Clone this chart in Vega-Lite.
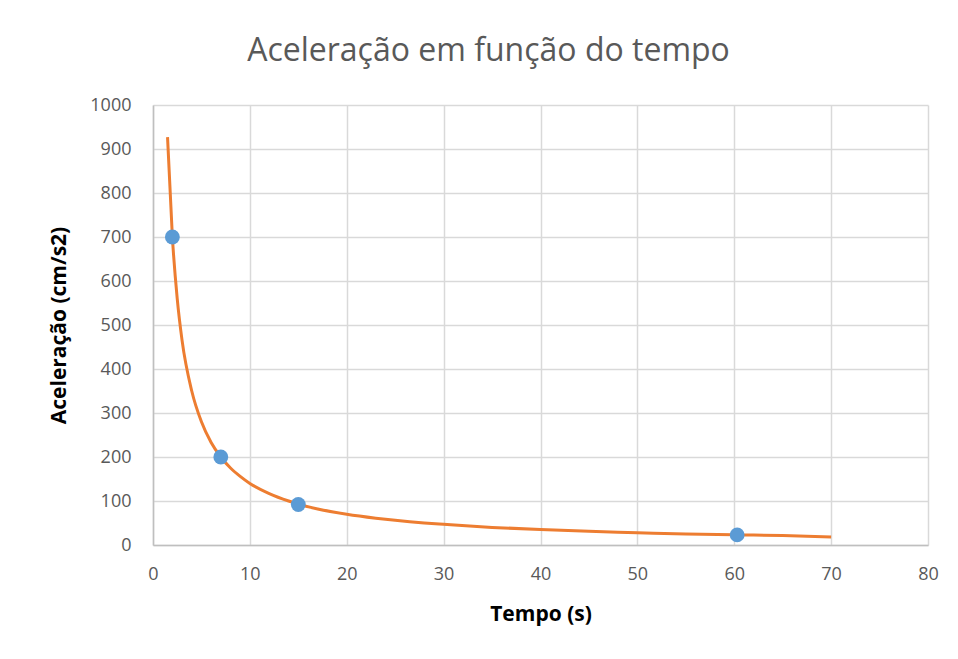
{
  "$schema": "https://vega.github.io/schema/vega-lite/v6.json",
  "autosize": "none",
  "width": 775,
  "height": 440,
  "padding": {"left": 153, "top": 105, "right": 30, "bottom": 114},
  "background": "white",
  "config": {
    "view": {"stroke": null},
    "font": "Open Sans"
  },
  "title": {
    "text": "Aceleração em função do tempo",
    "font": "Open Sans",
    "fontSize": 32,
    "fontWeight": "normal",
    "color": "#595959",
    "anchor": "middle",
    "dx": -52,
    "offset": 28
  },
  "datasets": {
    "curve": [
      {"t": 1.5, "a": 927},
      {"t": 2, "a": 700},
      {"t": 2.5, "a": 560},
      {"t": 3, "a": 465},
      {"t": 4, "a": 350},
      {"t": 5, "a": 280},
      {"t": 6, "a": 233},
      {"t": 7, "a": 200},
      {"t": 8, "a": 175},
      {"t": 9, "a": 156},
      {"t": 10, "a": 140},
      {"t": 12, "a": 117},
      {"t": 14, "a": 100},
      {"t": 15, "a": 93},
      {"t": 17, "a": 82},
      {"t": 20, "a": 70},
      {"t": 23, "a": 61},
      {"t": 25, "a": 56},
      {"t": 28, "a": 50},
      {"t": 30, "a": 47},
      {"t": 35, "a": 40},
      {"t": 40, "a": 35},
      {"t": 45, "a": 31},
      {"t": 50, "a": 28},
      {"t": 55, "a": 25},
      {"t": 60, "a": 23},
      {"t": 65, "a": 21.5},
      {"t": 70, "a": 18}
    ],
    "pts": [
      {"t": 2, "a": 700},
      {"t": 7, "a": 200},
      {"t": 15, "a": 92},
      {"t": 60.3, "a": 23}
    ]
  },
  "encoding": {
    "x": {
      "field": "t",
      "type": "quantitative",
      "scale": {"domain": [0, 80], "nice": false, "zero": true},
      "axis": {
        "title": "Tempo (s)",
        "values": [0, 10, 20, 30, 40, 50, 60, 70, 80],
        "format": "d",
        "labelFlush": false,
        "grid": true,
        "gridColor": "#d9d9d9",
        "gridWidth": 1.5,
        "domainColor": "#bfbfbf",
        "domainWidth": 1.5,
        "ticks": false,
        "labelPadding": 20,
        "labelFont": "Open Sans",
        "labelFontSize": 18,
        "labelColor": "#595959",
        "titleFont": "Open Sans",
        "titleFontSize": 21,
        "titleFontWeight": "bold",
        "titleColor": "#000000",
        "titlePadding": 20
      }
    },
    "y": {
      "field": "a",
      "type": "quantitative",
      "scale": {"domain": [0, 1000], "nice": false},
      "axis": {
        "title": "Aceleração (cm/s2)",
        "values": [0, 100, 200, 300, 400, 500, 600, 700, 800, 900, 1000],
        "format": "d",
        "labelFlush": false,
        "grid": true,
        "gridColor": "#d9d9d9",
        "gridWidth": 1.5,
        "domainColor": "#bfbfbf",
        "domainWidth": 1.5,
        "ticks": false,
        "labelPadding": 22,
        "labelFont": "Open Sans",
        "labelFontSize": 18,
        "labelColor": "#595959",
        "titleFont": "Open Sans",
        "titleFontSize": 21,
        "titleFontWeight": "bold",
        "titleColor": "#000000",
        "titlePadding": 20
      }
    }
  },
  "layer": [
    {
      "data": {"name": "curve"},
      "mark": {"type": "line", "color": "#ed7d31", "strokeWidth": 3, "interpolate": "monotone"}
    },
    {
      "data": {"name": "pts"},
      "mark": {"type": "point", "filled": true, "color": "#5b9bd5", "opacity": 1, "size": 220}
    }
  ]
}
